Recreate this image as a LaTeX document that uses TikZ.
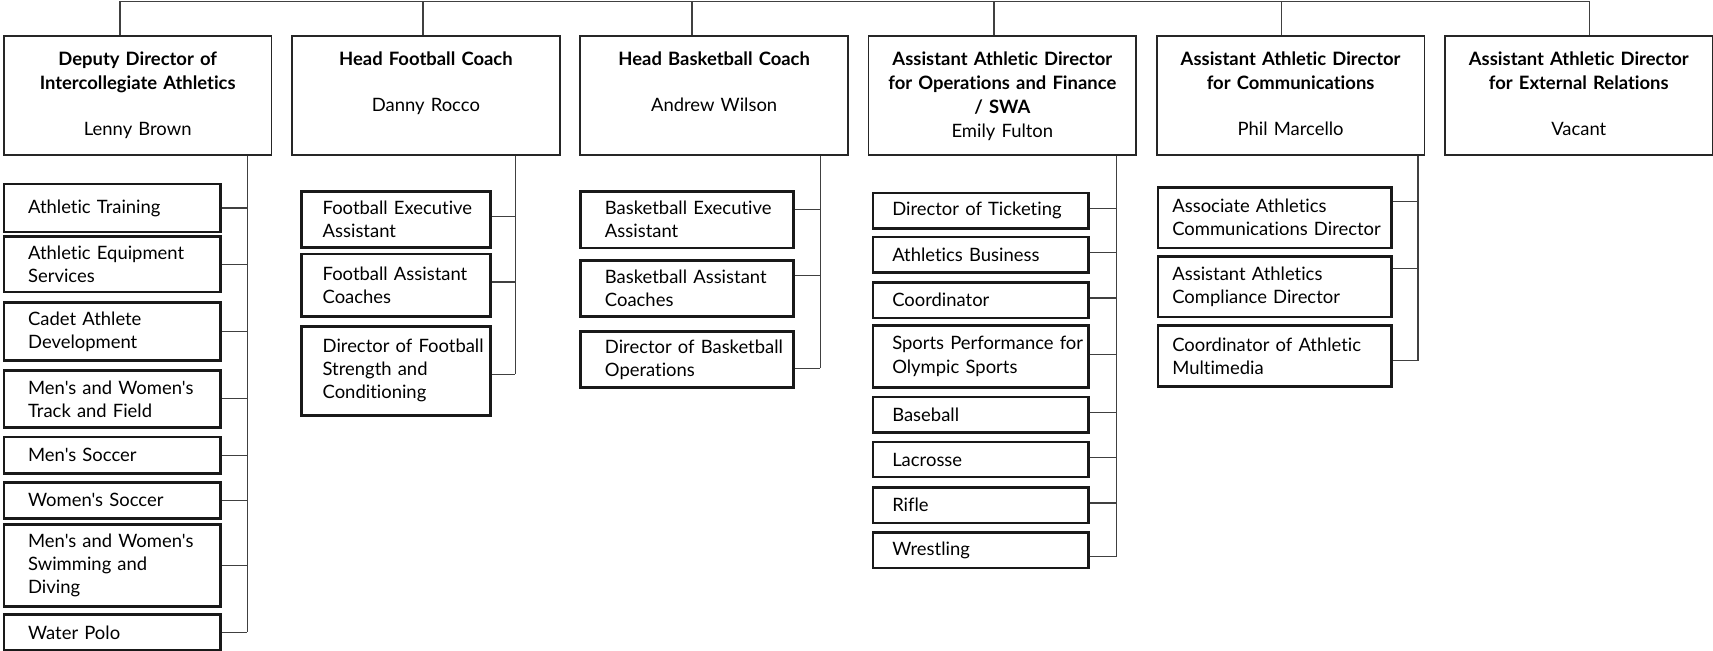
\documentclass[tikz,border=0pt]{standalone}
\usepackage{fontspec}
\setmainfont{Lato}[Ligatures={TeXOff,NoCommon}]
\usetikzlibrary{positioning,calc}
\tikzset{
  headbox/.style={draw=black!85, line width=0.9pt, inner sep=0pt, anchor=north west,
    text width=4.9cm, align=center, text height=15.5pt, text depth=46.5pt,
    font=\fontsize{9.6}{12.5}\selectfont},
  staffbox/.style 2 args={draw=black!90, line width=1.4pt, inner sep=0pt, anchor=north west,
    text width=#1, align=left, execute at begin node={\leftskip=#2},
    font=\fontsize{9.6}{12}\selectfont},
  depbox/.style={staffbox={3.96cm}{0.44cm}},
  fbbox/.style={staffbox={3.46cm}{0.39cm}},
  bbbox/.style={staffbox={3.90cm}{0.45cm}},
  opsbox/.style={staffbox={3.94cm}{0.35cm}},
  combox/.style={staffbox={4.27cm}{0.26cm}},
  link/.style={draw=black!75, line width=0.6pt}
}

\begin{document}
\begin{tikzpicture}
    \useasboundingbox (0,0) rectangle (31.36,-11.9);
    % Directors
    \node[headbox] (deputy) at (0.055,-0.641) {\textbf{Deputy Director of\\Intercollegiate Athletics}\\[11.4pt]Lenny Brown};
    \node[headbox] (football) at (5.331,-0.641) {\textbf{Head Football Coach}\\[11.4pt]Danny Rocco};
    \node[headbox] (basketball) at (10.608,-0.641) {\textbf{Head Basketball Coach}\\[11.4pt]Andrew Wilson};
    \node[headbox] (operations) at (15.884,-0.641) {\textbf{Assistant Athletic Director\\for Operations and Finance\\/ SWA}\\Emily Fulton};
    \node[headbox] (comms) at (21.161,-0.641) {\textbf{Assistant Athletic Director\\for Communications}\\[11.4pt]Phil Marcello};
    \node[headbox] (external) at (26.437,-0.641) {\textbf{Assistant Athletic Director\\for External Relations}\\[11.4pt]Vacant};
    % Top bar
    \coordinate (t1) at (2.197,-0.02); \coordinate (t2) at (7.744,-0.02);
    \coordinate (t3) at (12.669,-0.02); \coordinate (t4) at (18.198,-0.02);
    \coordinate (t5) at (23.462,-0.02); \coordinate (t6) at (29.101,-0.02);
    \draw[link] (t1) -- (t6);
    \foreach \c/\n in {t1/deputy,t2/football,t3/basketball,t4/operations,t5/comms,t6/external}
        \draw[link] (\c) -- (\c |- \n.north);

    % Deputy Director staff
    \node[depbox, minimum height=0.879cm] (training) at (0.05,-3.345) {Athletic Training};
    \node[depbox, minimum height=1.02cm] (equipment) at (0.05,-4.302) {Athletic Equipment\\Services};
    \node[depbox, minimum height=1.062cm] (cadet) at (0.05,-5.511) {Cadet Athlete\\Development};
    \node[depbox, minimum height=1.043cm] (track) at (0.05,-6.756) {Men's and Women's\\Track and Field};
    \node[depbox, minimum height=0.664cm] (msoccer) at (0.05,-7.977) {Men's Soccer};
    \node[depbox, minimum height=0.659cm] (wsoccer) at (0.05,-8.806) {Women's Soccer};
    \node[depbox, minimum height=1.501cm] (swim) at (0.05,-9.575) {Men's and Women's\\Swimming and\\Diving};
    \node[depbox, minimum height=0.66cm] (polo) at (0.05,-11.223) {Water Polo};
    \coordinate (dep-bus) at (4.528,0);
    \draw[link] (deputy.south -| dep-bus) -- (polo.east -| dep-bus);
    \foreach \n in {training,equipment,cadet,track,msoccer,wsoccer,swim,polo}
        \draw[link] (\n.east) -- (\n.east -| dep-bus);

    % Football staff
    \node[fbbox, minimum height=1.025cm] (fexec) at (5.492,-3.479) {Football Executive\\Assistant};
    \node[fbbox, minimum height=1.141cm] (fcoach) at (5.492,-4.627) {Football Assistant\\Coaches};
    \node[fbbox, minimum height=1.629cm] (fstrength) at (5.492,-5.95) {Director of Football\\Strength and\\Conditioning};
    \coordinate (fb-bus) at (9.43,0);
    \draw[link] (football.south -| fb-bus) -- ([yshift=-0.06cm]fstrength.east -| fb-bus);
    \foreach \n/\s in {fexec/0.05,fcoach/0.06,fstrength/-0.06}
        \draw[link] ([yshift=\s cm]\n.east) -- ([yshift=\s cm]\n.east -| fb-bus);

    % Basketball staff
    \node[bbbox, minimum height=1.038cm] (bexec) at (10.6,-3.479) {Basketball Executive\\Assistant};
    \node[bbbox, minimum height=1.025cm] (bcoach) at (10.6,-4.742) {Basketball Assistant\\Coaches};
    \node[bbbox, minimum height=1.025cm] (bops) at (10.6,-6.042) {Director of Basketball\\Operations};
    \coordinate (bb-bus) at (15.013,0);
    \draw[link] (basketball.south -| bb-bus) -- ([yshift=-0.16cm]bops.east -| bb-bus);
    \foreach \n/\s in {bexec/0.19,bcoach/0.24,bops/-0.16}
        \draw[link] ([yshift=\s cm]\n.east) -- ([yshift=\s cm]\n.east -| bb-bus);

    % Operations and Finance staff
    \node[opsbox, minimum height=0.652cm] (ticket) at (15.96,-3.51) {Director of Ticketing};
    \node[opsbox, minimum height=0.646cm] (business) at (15.96,-4.315) {Athletics Business};
    \node[opsbox, minimum height=0.654cm] (coord) at (15.96,-5.145) {Coordinator};
    \node[opsbox, minimum height=1.135cm] (perform) at (15.96,-5.932) {Sports Performance for\\Olympic Sports};
    \node[opsbox, minimum height=0.646cm] (baseball) at (15.96,-7.245) {Baseball};
    \node[opsbox, minimum height=0.641cm] (lacrosse) at (15.96,-8.069) {Lacrosse};
    \node[opsbox, minimum height=0.654cm] (rifle) at (15.96,-8.898) {Rifle};
    \node[opsbox, minimum height=0.654cm] (wrestling) at (15.96,-9.722) {Wrestling};
    \coordinate (ops-bus) at (20.445,0);
    \draw[link] (operations.south -| ops-bus) -- ([yshift=-0.11cm]wrestling.east -| ops-bus);
    \foreach \n/\s in {ticket/0.04,business/0.04,coord/0.04,perform/0.04,baseball/0.04,lacrosse/0.04,rifle/0.04,wrestling/-0.11}
        \draw[link] ([yshift=\s cm]\n.east) -- ([yshift=\s cm]\n.east -| ops-bus);

    % Communications staff
    \node[combox, minimum height=1.111cm] (assoc) at (21.177,-3.405) {Associate Athletics\\Communications Director};
    \node[combox, minimum height=1.111cm] (compliance) at (21.177,-4.669) {Assistant Athletics\\Compliance Director};
    \node[combox, minimum height=1.117cm] (media) at (21.177,-5.932) {Coordinator of Athletic\\Multimedia};
    \coordinate (com-bus) at (25.96,0);
    \draw[link] (comms.south -| com-bus) -- ([yshift=-0.09cm]media.east -| com-bus);
    \foreach \n/\s in {assoc/0.29,compliance/0.34,media/-0.09}
        \draw[link] ([yshift=\s cm]\n.east) -- ([yshift=\s cm]\n.east -| com-bus);
\end{tikzpicture}
\end{document}
